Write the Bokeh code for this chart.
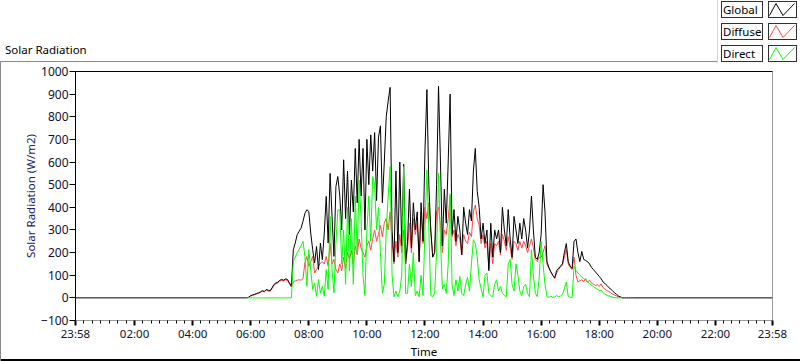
import numpy as np
from bokeh.plotting import figure
from bokeh.layouts import column
from bokeh.models import FixedTicker, LinearAxis, Range1d, Div
from bokeh.embed import file_html
from bokeh.resources import INLINE

nan = float("nan")

# ---- axis definitions (x in minutes after midnight; chart spans 23:58 -> 23:58) ----
x_tick_minutes = [-2, 120, 240, 360, 480, 600, 720, 840, 960, 1080, 1200, 1320, 1438]
x_tick_labels = ["23:58", "02:00", "04:00", "06:00", "08:00", "10:00", "12:00",
                 "14:00", "16:00", "18:00", "20:00", "22:00", "23:58"]
y_ticks = [-100, 0, 100, 200, 300, 400, 500, 600, 700, 800, 900, 1000]

# ---- daytime samples: every 4 minutes starting at 05:48 ----
start_minute = 348
step_minutes = 4

global_rad = [
    0, 0, 3, 10, 13, 16, 19, 22, 26, 32, 28, 37, 34, 31, 44, 59, 66, 69, 78, 81,
    78, 84, 81, 66, 51, 213, 242, 279, 294, 308, 338, 374, 389, 382, 286, 213, 154, 227, 125, 242,
    169, 286, 448, 242, 550, 360, 183, 492, 536,
    450, 300, 610, 350, 560, 280, 520, 380, 660, 420, 700, 450, 660, 300, 700, 500, 720, 560, 730, 430,
    710, 760, 420, 600, 800, 870, 930, 300, 160, 560, 200, 600, 230, 590, 150, 250, 480, 220, 420, 300,
    380, 160, 420, 250, 650, 920, 500, 300, 180, 200, 500, 935,
    600, 230, 480, 330, 600, 900, 280, 390, 250, 360, 300, 190, 400, 330, 280, 390, 340, 560, 660, 470,
    400, 260, 330, 240, 300, 120, 330, 180, 300, 260, 300, 200, 400, 300, 230, 390, 260, 180, 360, 300,
    240, 330, 260, 350, 300, 220, 300, 450, 300, 180, 170, 200,
    280, 500, 380, 160, 135, 115, 100, 88, 120, 130, 140, 150, 200, 240, 160, 140, 130, 250, 260, 200,
    160, 205, 170, 165, 160, 150, 135, 125, 115, 105, 95, 85, 70, 63, 55, 45, 38, 30, 22, 15,
    8, 4, 0, 0, 0, 0, 0, 0,
]

diffuse_rad = [
    nan, nan, 2, 8, 11, 14, 17, 20, 24, 29, 26, 34, 31, 29, 41, 55, 62, 66, 74, 77,
    75, 80, 77, 62, 48, 70, 75, 78, 80, 78, 85, 154, 183, 139, 161, 183, 110, 125, 140, 154,
    160, 150, 183, 140, 242, 150, 170, 125, 110,
    150, 120, 180, 130, 200, 170, 210, 150, 230, 190, 260, 220, 200, 180, 230, 250, 210, 260, 300, 250,
    280, 320, 270, 330, 350, 300, 380, 250, 150, 250, 180, 280, 200, 300, 150, 220, 330, 200, 350, 280,
    330, 160, 380, 240, 400, 350, 420, 300, 180, 200, 380, 400,
    320, 200, 300, 280, 350, 450, 270, 300, 230, 280, 260, 190, 280, 250, 240, 290, 270, 380, 410, 350,
    320, 240, 280, 220, 250, 130, 240, 150, 240, 230, 250, 190, 280, 250, 210, 270, 220, 170, 250, 240,
    210, 250, 220, 250, 230, 200, 230, 260, 220, 170, 160, 180,
    180, 200, 230, 150, 130, 115, 100, 85, 110, 125, 135, 145, 180, 213, 150, 135, 125, 180, 100, 70,
    75, 80, 72, 85, 70, 78, 65, 60, 55, 58, 50, 62, 45, 38, 32, 28, 22, 16, 12, 8,
    5, 2, 0, nan, nan, nan, nan, nan,
]

direct_rad = [
    nan, 0, 0, 0, 0, 0, 0, 0, 0, 0, 0, 0, 0, 0, 0, 0, 0, 0, 0, 0,
    0, 0, 0, 0, 0, 160, 180, 200, 215, 230, 250, 183, 51, 213, 125, 37, 66, 7, 81, 22,
    51, 7, 125, 37, 360, 125, 22, 242, 389,
    389, 150, 300, 60, 400, 120, 350, 60, 450, 200, 520, 350, 100, 10, 300, 450, 250, 536, 500, 300,
    400, 200, 20, 60, 300, 450, 580, 100, 5, 30, 5, 30, 100, 580, 20, 20, 150, 50, 200, 10,
    30, 5, 100, 10, 300, 565, 300, 10, 5, 20, 200, 550,
    250, 40, 60, 20, 150, 460, 60, 10, 80, 30, 95, 20, 10, 60, 90, 30, 150, 257, 240, 180,
    80, 40, 5, 100, 110, 20, 10, 5, 60, 80, 30, 50, 20, 10, 5, 150, 170, 60, 30, 150,
    100, 30, 10, 50, 60, 20, 5, 213, 100, 20, 5, 90,
    250, 150, 60, 5, 3, 8, 2, 4, 10, 5, 8, 15, 40, 70, 5, 3, 2, 140, 120, 110,
    100, 92, 85, 78, 70, 63, 56, 50, 44, 38, 32, 35, 22, 16, 12, 8, 5, 3, 1, 0,
    0, 0, 0, nan, nan, nan, nan, nan,
]

series_names = ["Global", "Diffuse", "Direct"]
series_colors = ["#000000", "#ff4848", "#00ff00"]

chart_title = "Solar Radiation"
y_title = "Solar Radiation (W/m2)"
x_title = "Time"

# ---- build time axis ----
day_minutes = [start_minute + step_minutes * i for i in range(len(global_rad))]
g_x = np.array([x_tick_minutes[0]] + day_minutes + [x_tick_minutes[-1]], dtype=float)
g_y = np.array([0] + global_rad + [0], dtype=float)
d_x = np.array(day_minutes, dtype=float)

FONT = "Noto Sans"
W = 800
HEAD_H = 63
MAIN_H = 361 - HEAD_H
FL, FR = 75, 772          # plot area left/right (page px)
FT, FB = 71, 322          # plot area top/bottom (page px)

# ================= header: title + LabVIEW style legend (HTML) =================
rows_html = []
row_tops = [1, 23, 45]
for name, color, rt in zip(series_names, series_colors, row_tops):
    rows_html.append(
        f'<div style="position:absolute;left:721px;top:{rt}px;width:42px;height:17px;'
        f'box-sizing:border-box;border:1px solid #303030;background:#fff;'
        f'line-height:15px;padding-left:1px;white-space:nowrap;overflow:hidden;">{name}</div>'
        f'<div style="position:absolute;left:768px;top:{rt}px;width:29px;height:17px;'
        f'box-sizing:border-box;border:1px solid #303030;background:#fff;">'
        f'<svg width="27" height="15" style="position:absolute;left:0;top:0;">'
        f'<polyline points="0.5,13.5 7,1.5 14,13.5 25.5,1.5" fill="none" stroke="{color}" '
        f'stroke-width="1"/></svg></div>'
    )

header_html = (
    f'<div style="position:relative;width:{W}px;height:{HEAD_H}px;overflow:hidden;'
    f'font-family:\'{FONT}\';font-size:11.5px;color:#000;background:#fff;">'
    f'<div style="position:absolute;left:5px;top:42px;line-height:16px;white-space:nowrap;">'
    f'{chart_title}</div>'
    f'<div style="position:absolute;left:0px;top:61px;width:717px;height:10px;'
    f'border-top:1px solid #8a8a8a;border-left:1px solid #8a8a8a;"></div>'
    f'<div style="position:absolute;left:717px;top:0px;width:0px;height:{HEAD_H}px;'
    f'border-left:1px solid #d4d4d4;"></div>'
    + "".join(rows_html) +
    '</div>'
)
head = Div(text=header_html, width=W, height=HEAD_H, styles={"margin": "0", "padding": "0"})

# ================= main chart =================
p = figure(width=W, height=MAIN_H,
           x_range=Range1d(x_tick_minutes[0], x_tick_minutes[-1]),
           y_range=Range1d(y_ticks[0], y_ticks[-1]),
           output_backend="svg", toolbar_location=None,
           min_border_left=FL, min_border_right=W - FR,
           min_border_top=FT - HEAD_H, min_border_bottom=361 - FB,
           background_fill_color="white", border_fill_alpha=0,
           outline_line_color="#9a9a9a", outline_line_width=1,
           styles={"background-color": "#ffffff",
                   "box-shadow": "inset 1px 0 0 #8a8a8a, inset 0 -2px 0 #000000"})
p.grid.visible = False

minor = []
for a, b in zip(x_tick_minutes[:-1], x_tick_minutes[1:]):
    for k in range(1, 7):
        minor.append(a + (b - a) * k / 7.0)

xa = p.xaxis[0]
xa.ticker = FixedTicker(ticks=x_tick_minutes, minor_ticks=minor)
xa.major_label_overrides = {m: l for m, l in zip(x_tick_minutes, x_tick_labels)}
xa.major_tick_out = 5
xa.major_tick_in = 0
xa.major_tick_line_width = 2
xa.major_tick_line_color = "black"
xa.minor_tick_out = 3
xa.minor_tick_in = 0
xa.minor_tick_line_color = "black"
xa.axis_line_color = "#9a9a9a"
xa.major_label_standoff = 0
xa.major_label_text_font = FONT
xa.major_label_text_font_size = "11.5px"
xa.major_label_text_color = "#101030"
xa.axis_label = x_title
xa.axis_label_text_font = FONT
xa.axis_label_text_font_size = "11.5px"
xa.axis_label_text_font_style = "normal"
xa.axis_label_text_color = "black"
xa.axis_label_standoff = 0

ya = p.yaxis[0]
ya.ticker = FixedTicker(ticks=y_ticks, minor_ticks=[])
ya.major_tick_out = 6
ya.major_tick_in = 0
ya.major_tick_line_color = "black"
ya.axis_line_color = "black"
ya.major_label_standoff = 1
ya.major_label_text_font = FONT
ya.major_label_text_font_size = "12px"
ya.major_label_text_color = "#101030"
ya.axis_label = y_title
ya.axis_label_text_font = FONT
ya.axis_label_text_font_size = "11.5px"
ya.axis_label_text_font_style = "normal"
ya.axis_label_text_color = "#20206a"
ya.axis_label_standoff = 0

top = LinearAxis(ticker=FixedTicker(ticks=[], minor_ticks=[]), axis_line_color="black",
                 major_label_text_font_size="0px", major_tick_out=0, minor_tick_out=0,
                 major_tick_in=0, minor_tick_in=0, major_label_standoff=0)
p.add_layout(top, "above")

p.line(d_x, np.array(diffuse_rad, dtype=float), line_color=series_colors[1], line_width=1)
p.line(g_x, g_y, line_color=series_colors[0], line_width=1)
p.line(d_x, np.array(direct_rad, dtype=float), line_color=series_colors[2], line_width=1)

layout = column(head, p, spacing=0)
open("out.html", "w").write(file_html(layout, INLINE))
